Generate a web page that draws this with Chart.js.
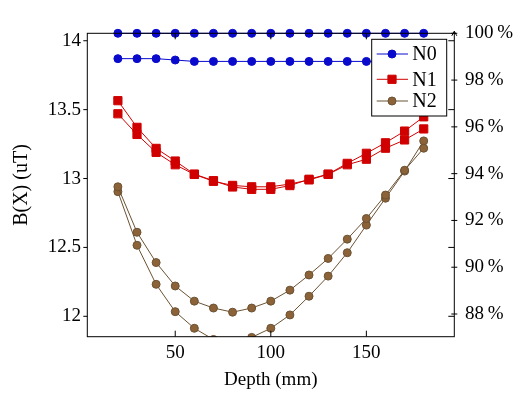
<!DOCTYPE html>
<html><head><meta charset="utf-8">
<script src="https://cdn.jsdelivr.net/npm/chart.js@4/dist/chart.umd.min.js"></script>
<style>html,body{margin:0;padding:0;background:#fff}#wrap{width:520px;height:399px;position:relative}</style>
</head><body><div id="wrap"><canvas id="c" width="520" height="399"></canvas></div>
<script>
const depth = [20,30,40,50,60,70,80,90,100,110,120,130,140,150,160,170,180];
const seriesNames = ['N0','N1','N2'];
const n0B   = [13.87,13.87,13.87,13.86,13.85,13.85,13.85,13.85,13.85,13.85,13.85,13.85,13.85,13.85,13.85,13.85,13.85];
const n0Pct = [100,100,100,100,100,100,100,100,100,100,100,100,100,100,100,100,100];
const n1B   = [13.47,13.32,13.19,13.10,13.03,12.98,12.95,12.94,12.94,12.96,12.99,13.03,13.10,13.14,13.22,13.28,13.36];
const n1Pct = [97.12,95.98,95.08,94.54,93.98,93.70,93.43,93.33,93.33,93.49,93.76,93.98,94.44,94.87,95.32,95.82,96.43];
const n2B   = [12.94,12.61,12.39,12.22,12.11,12.06,12.03,12.06,12.11,12.19,12.30,12.42,12.56,12.71,12.88,13.06,13.22];
const n2Pct = [93.23,90.94,89.27,88.10,87.39,86.91,86.74,87.00,87.39,87.96,88.76,89.62,90.62,91.80,92.95,94.11,95.40];
const xTicks = [50,100,150];
const leftTicks = [12,12.5,13,13.5,14];
const rightTicks = [88,90,92,94,96,98,100];

const FONT = "'Liberation Serif', 'Times New Roman', serif";
const BLUE = '#0a0acc', RED = '#d00000', BROWN_FILL = '#8c6239', BROWN_LINE = '#6b5233';

function pts(arr){ return depth.map((d,i)=>({x:d, y:arr[i]})); }
function ds(label, arr, axis, color, fill, style, r, extra){
  return Object.assign({label, data: pts(arr), yAxisID: axis, borderColor: color, borderWidth: 1,
    pointStyle: style, pointRadius: r, pointHoverRadius: r, pointBackgroundColor: fill,
    pointBorderColor: color, pointBorderWidth: 1, tension: 0, fill: false}, extra||{});
}
const styles = [
  {color: BLUE, fill: BLUE, style: 'circle', r: 4},
  {color: RED, fill: RED, style: 'rect', r: 5.8},
  {color: BROWN_LINE, fill: BROWN_FILL, style: 'circle', r: 4}
];
const datasets = [
  ds(seriesNames[0], n0B, 'y', BLUE, BLUE, 'circle', 4),
  ds(seriesNames[0], n0Pct, 'y2', BLUE, BLUE, 'circle', 4, {clip: false}),
  ds(seriesNames[1], n1B, 'y', RED, RED, 'rect', 5.8),
  ds(seriesNames[1], n1Pct, 'y2', RED, RED, 'rect', 5.8),
  ds(seriesNames[2], n2B, 'y', BROWN_LINE, BROWN_FILL, 'circle', 4),
  ds(seriesNames[2], n2Pct, 'y2', BROWN_LINE, BROWN_FILL, 'circle', 4)
];

const frame = {
  id: 'frame',
  afterDatasetsDraw(chart){
    const {ctx, chartArea: a, scales: {x, y, y2}} = chart;
    ctx.save();
    ctx.strokeStyle = '#000'; ctx.lineWidth = 1;
    ctx.strokeRect(a.left, a.top, a.right - a.left, a.bottom - a.top);
    ctx.beginPath();
    xTicks.forEach(v => { const p = x.getPixelForValue(v);
      ctx.moveTo(p, a.bottom); ctx.lineTo(p, a.bottom - 6);
      ctx.moveTo(p, a.top); ctx.lineTo(p, a.top + 6); });
    leftTicks.forEach(v => { const p = y.getPixelForValue(v);
      ctx.moveTo(a.left - 4, p); ctx.lineTo(a.left, p);
      ctx.moveTo(a.right - 6, p); ctx.lineTo(a.right, p); });
    rightTicks.forEach(v => { const p = y2.getPixelForValue(v);
      ctx.moveTo(a.right - 3, p); ctx.lineTo(a.right + 3, p); });
    ctx.moveTo(a.right, a.top); ctx.lineTo(a.right, a.top - 2);
    ctx.moveTo(a.right - 2.5, a.top + 2.5); ctx.lineTo(a.right, a.top - 2); ctx.lineTo(a.right + 2.5, a.top + 2.5);
    ctx.stroke();

    const lw = 75, lh = 76.7;
    const lx = a.right - 7.6 - lw, ly = a.top + 6;
    ctx.fillStyle = '#fff'; ctx.fillRect(lx, ly, lw, lh);
    ctx.strokeStyle = '#000'; ctx.strokeRect(lx, ly, lw, lh);
    const rows = [ly + 14.7, ly + 40, ly + 61.7];
    seriesNames.forEach((name, i) => {
      const s = styles[i], yy = rows[i];
      ctx.strokeStyle = s.color; ctx.lineWidth = 1;
      ctx.beginPath(); ctx.moveTo(lx + 5, yy); ctx.lineTo(lx + 36.3, yy); ctx.stroke();
      ctx.fillStyle = s.fill; ctx.strokeStyle = s.color;
      Chart.helpers.drawPoint(ctx, {pointStyle: s.style, radius: s.r, rotation: 0, borderWidth: 1}, lx + 20.3, yy);
      ctx.fillStyle = '#000'; ctx.font = "20px " + FONT;
      ctx.textAlign = 'left'; ctx.textBaseline = 'middle';
      ctx.fillText(name, lx + 40.5, yy + 1);
    });
    ctx.restore();
  }
};

new Chart(document.getElementById('c'), {
  type: 'line',
  data: { datasets },
  plugins: [frame],
  options: {
    responsive: false, animation: false, devicePixelRatio: 1,
    layout: { padding: { top: 33.3, left: 0, right: 0, bottom: 0 } },
    plugins: { legend: { display: false }, tooltip: { enabled: false } },
    scales: {
      x: {
        type: 'linear', position: 'bottom', min: 4, max: 196,
        afterBuildTicks: s => { s.ticks = xTicks.map(v => ({value: v})); },
        afterFit: s => { s.height = 62.3; },
        grid: { display: false, drawTicks: false }, border: { display: false },
        ticks: { color: '#000', padding: 5, font: { family: FONT, size: 19 }, maxRotation: 0, callback: v => String(v) },
        title: { display: true, text: 'Depth (mm)', color: '#000', font: { family: FONT, size: 19 }, padding: { top: 0, bottom: 8 } }
      },
      y: {
        type: 'linear', position: 'left', min: 11.852, max: 14.054,
        afterBuildTicks: s => { s.ticks = leftTicks.map(v => ({value: v})); },
        afterFit: s => { s.width = 87.3; },
        grid: { display: false, drawTicks: false }, border: { display: false },
        ticks: { color: '#000', padding: 6.3, font: { family: FONT, size: 19 }, callback: v => String(v) },
        title: { display: true, text: 'B(X) (uT)', color: '#000', font: { family: FONT, size: 20 }, padding: { top: 10, bottom: 0 } }
      },
      y2: {
        type: 'linear', position: 'right', min: 87.03, max: 100,
        afterBuildTicks: s => { s.ticks = rightTicks.map(v => ({value: v})); },
        afterFit: s => { s.width = 65.7; },
        grid: { display: false, drawTicks: false }, border: { display: false },
        ticks: { color: '#000', padding: 10.7, font: { family: FONT, size: 19 }, callback: v => v + '\u2009%' }
      }
    }
  }
});
</script></body></html>
